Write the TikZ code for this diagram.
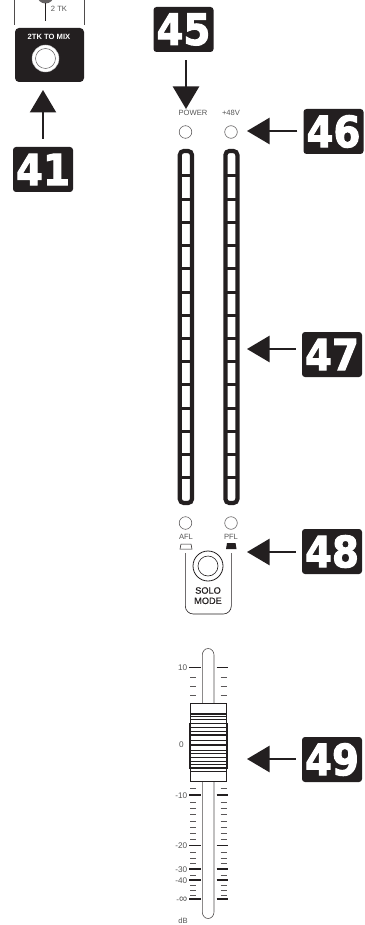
\documentclass[tikz,border=0pt]{standalone}
\usepackage{fontspec}
\usepackage{graphicx}
\setmainfont{Liberation Sans}
\newfontfamily\numfont{DejaVu Sans Bold}
\newfontfamily\solofont[FakeBold=.5]{Liberation Sans}
\usetikzlibrary{arrows.meta}
\definecolor{ink}{HTML}{231F20}
\definecolor{lab}{HTML}{555555}
\tikzset{
  x=1pt,y=-1pt,
  numbox/.style={fill=ink,draw=none,rounded corners=3pt,minimum width=60pt,minimum height=45pt,inner sep=0pt,text=white,font=\numfont\fontsize{43}{43}\selectfont},
  callout/.style={draw=ink,line width=2.4pt,-{Triangle[length=22.5pt,width=26pt]}},
  lab/.style={inner sep=0pt,text=lab,font=\fontsize{7.6}{8}\selectfont},
  led/.style={circle,draw=ink!80,line width=.5pt,fill=white,minimum size=12.6pt,inner sep=0pt},
  meter/.style={draw=ink,line width=4.2pt,rounded corners=4pt},
  seg/.style={draw=ink,line width=3pt},
  solo/.style={inner sep=0pt,text=ink,font=\solofont\fontsize{9.2}{10}\selectfont},
  major/.style={draw=ink,line width=1.3pt},
  minor/.style={draw=ink!75,line width=1pt},
  caprib/.style={draw=ink,line width=.8pt},
  capthick/.style={draw=ink,line width=1.6pt}
}
\newcommand{\nm}[1]{\special{pdf:code q 2 Tr 1.1 w 1 1 1 RG}\scalebox{.9}[1]{#1}\special{pdf:code Q}}
\begin{document}
\begin{tikzpicture}
\useasboundingbox (0,0) rectangle (364,925);
% top-left fragment
\begin{scope}
\clip (0,0) rectangle (364,925);
\fill[ink!70] (45.5,-5) circle (8.5);
\end{scope}
\draw[ink!80,line width=.7pt] (14.5,0) -- (14.5,25);
\draw[ink!80,line width=.7pt] (84,0) -- (84,25);
\draw[ink,line width=.7pt] (45.5,3) -- (45.5,21);
\node[lab] (twotk) at (59,8.5) {2 TK};
% 2TK box
\node[fill=ink,rounded corners=4pt,minimum width=69pt,minimum height=54pt,inner sep=0pt] (mixbox) at (49.5,55) {};
\node[inner sep=0pt,text=white,font=\bfseries\fontsize{7.6}{8}\selectfont] (mixlab) at (49,37) {2TK TO MIX};
\node[circle,fill=white,draw=ink!30,line width=.4pt,minimum size=27pt,inner sep=0pt] (jack) at (45.5,58.5) {};
\node[circle,draw=ink!70,fill=white,line width=.5pt,minimum size=20pt,inner sep=0pt] (jackin) at (45.5,58.5) {};
% number boxes
\node[numbox] (b41) at (43,169.5) {\nm{41}};
\node[numbox] (b45) at (183.5,29.5) {\nm{45}};
\node[numbox] (b46) at (333.5,131.5) {\nm{46}};
\node[numbox] (b47) at (332,354.5) {\nm{47}};
\node[numbox] (b48) at (332,551.5) {\nm{48}};
\node[numbox] (b49) at (332,759.5) {\nm{49}};
% labels, LEDs
\node[lab] (power) at (193,112.5) {POWER};
\node[lab] (v48) at (231,112.5) {+48V};
\node[led] (l1) at (185.5,132) {};
\node[led] (l2) at (231,132) {};
\node[led] (l3) at (185.5,523) {};
\node[led] (l4) at (231,523) {};
\node[lab] (afl) at (186,536.8) {AFL};
\node[lab] (pfl) at (231,536.8) {PFL};
% arrows
\coordinate (t41) at (43,90);
\coordinate (t45) at (186,109);
\coordinate (t46) at (247,131);
\coordinate (t47) at (247,349);
\coordinate (t48) at (247,552);
\coordinate (t49) at (247,759);
\draw[callout,shorten <=8pt] (b41.north) -- (t41);
\draw[callout,shorten <=8pt] (b45.south -| t45) -- (t45);
\draw[callout,shorten <=6pt] (b46.west |- t46) -- (t46);
\draw[callout,shorten <=6pt] (b47.west |- t47) -- (t47);
\draw[callout,shorten <=6pt] (b48.west |- t48) -- (t48);
\draw[callout,shorten <=6pt] (b49.west |- t49) -- (t49);
% meters
\foreach \xa/\xb in {179.8/192, 225.4/237.4}{
  \draw[meter] (\xa,151) rectangle (\xb,503);
  \foreach \k in {0,...,13}{
    \draw[seg] (\xa,176+23.2*\k) -- (\xb,176+23.2*\k);
  }
}
% solo
\draw[ink,line width=.6pt,rounded corners=8pt] (185.3,553) -- (185.3,614) -- (231.3,614) -- (231.3,553);
\draw[ink,line width=.5pt] (180,549) -- (181,544) -- (191,544) -- (192,549) -- cycle;
\fill[ink] (226,549) -- (227,543) -- (235.5,543) -- (236.5,549) -- cycle;
\node[circle,draw=ink,line width=.8pt,fill=white,minimum size=30pt,inner sep=0pt] (sk) at (208,566) {};
\node[circle,draw=ink,line width=.6pt,minimum size=20pt,inner sep=0pt] (ski) at (208,566) {};
\node[solo] (s1) at (208,590.5) {SOLO};
\node[solo] (s2) at (208,600.8) {MODE};
% fader slot
\draw[ink!80,line width=.6pt] (202.3,780) -- (202.3,655) arc[start angle=180,end angle=0,x radius=5.85,y radius=-6.5] -- (214,912) arc[start angle=0,end angle=-180,x radius=5.85,y radius=-6.5] -- cycle;
% ticks
\foreach \y in {667.7,795,845.7,869,880,899}{
  \draw[major] (189,\y) -- (201,\y);
  \draw[major] (216.7,\y) -- (227.7,\y);
}
\foreach \y in {677,686,695,788,802,808,814,821,827,833,839,852,858,863,875,885,890,895}{
  \draw[minor] (190,\y) -- (196,\y);
  \draw[minor] (220.7,\y) -- (227.3,\y);
}
\draw[minor] (190,778.5) -- (196,778.5);
\draw[minor] (220.7,778.5) -- (227.3,778.5);
% fader labels
\foreach \n/\y/\t in {a/668/10,c/795.5/-10,d/846/-20,e/869.5/-30,f/880.5/-40,g/899.5/-{\scalebox{1.4}{∞}}}{
  \node[lab,anchor=east,font=\fontsize{8.2}{9}\selectfont] (fl\n) at (187.5,\y) {\t};
}
\node[lab,font=\fontsize{8.2}{9}\selectfont] (fl0) at (181.5,744.5) {0};
\node[lab] (fldb) at (183,921) {dB};
% fader cap
\fill[white] (190,703) rectangle (226.7,781);
\draw[ink,line width=.7pt] (190,703) rectangle (226.7,781);
\draw[ink,line width=.8pt] (189.6,723) rectangle (227.2,768);
\foreach \y in {716,719,727,731,740,750,753,757,761,764,771}{
  \draw[caprib] (190,\y) -- (226.7,\y);
}
\foreach \y in {714,735,745,768}{
  \draw[capthick] (190,\y) -- (226.7,\y);
}
\end{tikzpicture}
\end{document}
